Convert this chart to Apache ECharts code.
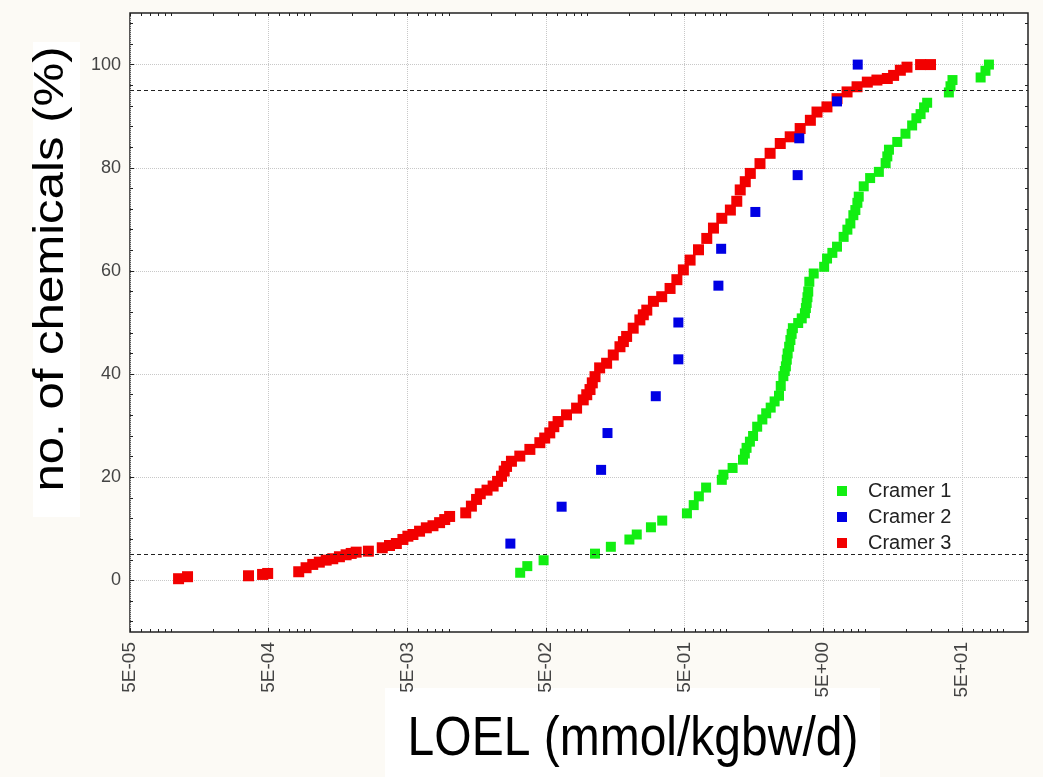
<!DOCTYPE html>
<html>
<head>
<meta charset="utf-8">
<script src="https://cdn.jsdelivr.net/npm/echarts@6/dist/echarts.min.js"></script>
<style>
  html, body { margin: 0; padding: 0; background: #fcfaf5; }
  #chart { width: 1043px; height: 777px; }
</style>
</head>
<body>
<div id="chart"></div>
<script>
// LOEL (mmol/kgbw/d) vs cumulative share of chemicals (%)
const cramer1Loel = [0.0326, 0.0367, 0.0481, 0.113, 0.147, 0.200, 0.226, 0.286, 0.345, 0.520,
  0.582, 0.634, 0.715, 0.928, 0.953, 1.11, 1.32, 1.36, 1.40, 1.48, 1.56, 1.67, 1.82, 1.94,
  2.09, 2.23, 2.40, 2.47, 2.58, 2.64, 2.69, 2.73, 2.77, 2.84, 2.90, 2.96, 3.02, 3.30, 3.50,
  3.69, 3.75, 3.80, 3.85, 3.90, 3.97, 4.27, 5.08, 5.33, 5.82, 6.29, 7.02, 7.47, 7.85, 8.25,
  8.53, 8.82, 9.02, 9.80, 10.9, 12.6, 14.1, 14.5, 14.9, 17.1, 19.6, 21.9, 23.5, 25.2, 26.7,
  28.1, 40.3, 41.4, 42.8, 68.3, 74.0, 78.4];
const cramer1Pct = [1.49, 2.77, 3.91, 5.19, 6.52, 7.93, 8.90, 10.3, 11.6, 13.0,
  14.6, 16.3, 18.0, 19.5, 20.5, 21.8, 23.4, 24.6, 25.7, 26.9, 28.0, 29.8, 31.2, 32.4,
  33.5, 34.7, 35.8, 37.7, 39.6, 40.6, 41.5, 42.8, 44.0, 45.3, 46.6, 47.8, 48.9, 49.9, 50.8,
  51.8, 52.8, 53.8, 54.9, 56.0, 57.9, 59.5, 60.8, 62.4, 63.5, 64.7, 66.6, 68.0, 69.2, 70.8,
  71.8, 73.2, 74.4, 76.4, 78.0, 79.2, 80.9, 82.2, 83.5, 85.0, 86.6, 88.2, 89.6, 90.4, 91.7,
  92.6, 94.6, 95.8, 97.0, 97.5, 98.8, 100];

const cramer2Loel = [0.0277, 0.0649, 0.125, 0.139, 0.310, 0.451, 0.451, 0.877, 0.918, 1.62,
  3.27, 3.36, 6.29, 8.87];
const cramer2Pct = [7.14, 14.29, 21.43, 28.57, 35.71, 42.86, 50.0, 57.14, 64.29, 71.43,
  78.57, 85.71, 92.86, 100];

const cramer3Loel = [1.12e-4, 1.30e-4, 3.58e-4, 4.52e-4, 4.92e-4, 8.24e-4, 9.31e-4, 1.04e-3,
  1.16e-3, 1.30e-3, 1.45e-3, 1.62e-3, 1.81e-3, 1.97e-3, 2.14e-3, 2.62e-3, 3.30e-3, 3.72e-3,
  4.17e-3, 4.65e-3, 5.05e-3, 5.49e-3, 6.13e-3, 6.86e-3, 7.66e-3, 8.55e-3, 9.31e-3, 1.01e-2,
  1.32e-2, 1.45e-2, 1.58e-2, 1.68e-2, 1.88e-2, 2.08e-2, 2.24e-2, 2.39e-2, 2.50e-2, 2.60e-2,
  2.82e-2, 3.24e-2, 3.83e-2, 4.52e-2, 4.90e-2, 5.33e-2, 5.70e-2, 6.12e-2, 7.04e-2, 8.32e-2,
  9.29e-2, 0.0985, 0.104, 0.108, 0.113, 0.122, 0.137, 0.153, 0.171, 0.181, 0.191, 0.213,
  0.238, 0.252, 0.267, 0.298, 0.342, 0.393, 0.440, 0.490, 0.548, 0.630, 0.723, 0.808, 0.928,
  1.07, 1.19, 1.26, 1.37, 1.49, 1.75, 2.07, 2.45, 2.89, 3.41, 4.04, 4.51, 5.32, 6.29, 7.43,
  8.77, 10.4, 12.2, 14.5, 16.1, 18.0, 20.1, 25.2, 29.7];
const cramer3Pct = [0.33, 0.72, 0.9, 1.16, 1.35, 1.68, 2.46, 3.10,
  3.54, 3.93, 4.20, 4.59, 4.97, 5.23, 5.48, 5.67, 6.33, 6.77,
  7.16, 7.94, 8.57, 8.90, 9.54, 10.2, 10.6, 11.2, 11.8, 12.4,
  13.1, 14.4, 15.7, 16.8, 17.5, 18.3, 19.2, 20.2, 21.2, 22.1,
  23.1, 24.1, 25.4, 26.7, 27.6, 28.6, 29.8, 30.8, 32.1, 33.4,
  35.0, 36.0, 37.0, 38.3, 39.5, 41.2, 42.1, 43.7, 45.3, 46.3, 47.3, 48.9,
  50.5, 51.5, 52.4, 54.1, 55.0, 56.6, 58.3, 60.2, 62.1, 64.1, 66.3, 68.3, 70.2,
  71.8, 73.5, 75.7, 77.3, 78.9, 80.8, 82.8, 84.7, 86.0, 87.6, 89.2, 90.8, 91.8, 93.4, 94.7,
  95.7, 96.6, 97.0, 97.3, 97.9, 98.9, 99.5, 100, 100];

const seriesNames = ['Cramer 1', 'Cramer 2', 'Cramer 3'];
const seriesColors = ['#12ee12', '#0000e4', '#f20000'];

const xTickValues = [5e-5, 5e-4, 5e-3, 5e-2, 5e-1, 5, 50];
const xTickLabels = ['5E-05', '5E-04', '5E-03', '5E-02', '5E-01', '5E+00', '5E+01'];
const yTickValues = [0, 20, 40, 60, 80, 100];
const cutoffLines = [5, 95];

const xMin = 5e-5, xMax = 150, yMin = -10, yMax = 110;

// minor log ticks at 1..9 x 10^n (the 5 x 10^n ones are the major ticks)
const xMinor = [];
for (let e = -5; e <= 2; e++) {
  for (let m = 1; m <= 9; m++) {
    const v = m * Math.pow(10, e);
    if (m !== 5 && v > xMin && v < xMax) xMinor.push(v);
  }
}
const yMinor = [];
for (let v = -8; v <= 108; v += 4) if (v % 20 !== 0) yMinor.push(v);

const font = '"Liberation Sans", Arial, sans-serif';

function pairs(xs, ys) {
  return xs.map((x, i) => [x, ys[i]]);
}

function xLabel(v) {
  let best = 0;
  xTickValues.forEach((t, i) => {
    if (Math.abs(Math.log10(t / v)) < Math.abs(Math.log10(xTickValues[best] / v))) best = i;
  });
  return xTickLabels[best];
}

const chart = echarts.init(document.getElementById('chart'), null, { renderer: 'canvas' });

const tickLine = { color: '#222', width: 1 };
const xBase = { type: 'log', logBase: 10, min: xMin, max: xMax, axisLine: { show: false, onZero: false } };
const yBase = { type: 'value', min: yMin, max: yMax, axisLine: { show: false, onZero: false } };

const option = {
  animation: false,
  backgroundColor: '#fcfaf5',
  grid: {
    left: 130, right: 15, top: 13, bottom: 145,
    show: true, backgroundColor: '#fff', borderColor: '#222', borderWidth: 1.5,
  },
  xAxis: [
    {
      ...xBase,
      position: 'bottom',
      axisTick: { inside: true, length: 4, customValues: xTickValues, lineStyle: tickLine },
      axisLabel: {
        customValues: xTickValues, rotate: 90, margin: 10,
        color: '#444', fontSize: 19, fontFamily: font,
        formatter: (v) => xLabel(v),
      },
      splitLine: { show: true, lineStyle: { color: '#c8c8c8', type: 'dotted', width: 1 } },
    },
    {
      ...xBase,
      position: 'bottom',
      axisTick: { inside: true, length: 3, customValues: xMinor, lineStyle: tickLine },
      axisLabel: { show: false },
      splitLine: { show: false },
    },
    {
      ...xBase,
      position: 'top',
      axisTick: { inside: true, length: 3, customValues: xMinor.concat(xTickValues), lineStyle: tickLine },
      axisLabel: { show: false },
      splitLine: { show: false },
    },
  ],
  yAxis: [
    {
      ...yBase,
      position: 'left',
      axisTick: { inside: true, length: 4, customValues: yTickValues, lineStyle: tickLine },
      axisLabel: { customValues: yTickValues, margin: 9, color: '#444', fontSize: 18, fontFamily: font },
      splitLine: { show: true, lineStyle: { color: '#c8c8c8', type: 'dotted', width: 1 } },
    },
    {
      ...yBase,
      position: 'left',
      axisTick: { inside: true, length: 3, customValues: yMinor, lineStyle: tickLine },
      axisLabel: { show: false },
      splitLine: { show: false },
    },
    {
      ...yBase,
      position: 'right',
      axisTick: { inside: true, length: 3, customValues: yTickValues.concat(yMinor), lineStyle: tickLine },
      axisLabel: { show: false },
      splitLine: { show: false },
    },
  ],
  legend: {
    data: seriesNames,
    orient: 'vertical',
    left: 837, top: 480,
    padding: 0,
    itemWidth: 10, itemHeight: 10, itemGap: 4,
    icon: 'rect',
    itemStyle: { opacity: 1 },
    textStyle: { fontSize: 20, lineHeight: 22, color: '#222', fontFamily: font, padding: [0, 0, 0, 16] },
  },
  graphic: [
    { type: 'rect', shape: { x: 385, y: 688, width: 495, height: 89 }, style: { fill: '#fff' } },
    {
      type: 'text', x: 633, y: 740, scaleY: 1.16,
      style: { text: 'LOEL (mmol/kgbw/d)', fontSize: 48, fontFamily: font, fill: '#000', align: 'center', verticalAlign: 'middle' },
    },
    { type: 'rect', shape: { x: 33, y: 42, width: 47, height: 475 }, style: { fill: '#fff' } },
    {
      type: 'text', x: 51, y: 269, rotation: Math.PI / 2, scaleX: 1.17,
      style: { text: 'no. of chemicals (%)', fontSize: 42, fontFamily: font, fill: '#000', align: 'center', verticalAlign: 'middle' },
    },
  ],
  series: [
    {
      name: seriesNames[2], type: 'scatter', symbol: 'rect', symbolSize: 11,
      itemStyle: { color: seriesColors[2], opacity: 1 },
      data: pairs(cramer3Loel, cramer3Pct),
      markLine: {
        silent: true, symbol: 'none', label: { show: false },
        lineStyle: { color: '#222', type: [4, 3], width: 1.2 },
        data: cutoffLines.map((v) => ({ yAxis: v })),
      },
    },
    {
      name: seriesNames[0], type: 'scatter', symbol: 'rect', symbolSize: 10,
      itemStyle: { color: seriesColors[0], opacity: 1 },
      data: pairs(cramer1Loel, cramer1Pct),
    },
    {
      name: seriesNames[1], type: 'scatter', symbol: 'rect', symbolSize: 10,
      itemStyle: { color: seriesColors[1], opacity: 1 },
      data: pairs(cramer2Loel, cramer2Pct),
    },
  ],
};

chart.setOption(option);
</script>
</body>
</html>
